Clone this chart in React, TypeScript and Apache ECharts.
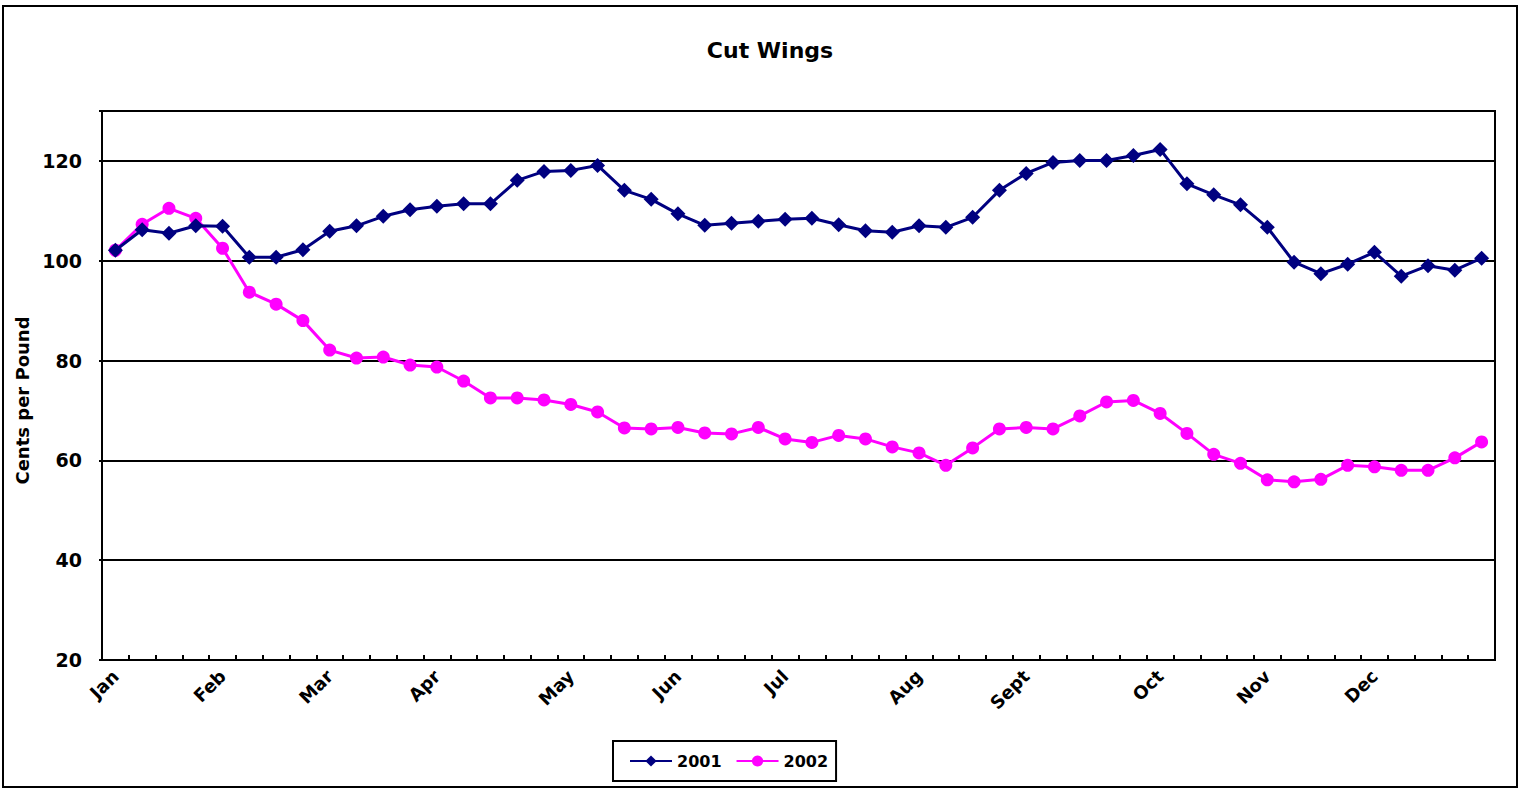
import React, { useEffect, useRef } from "react";
import * as echarts from "echarts";

const monthLabels = ["Jan", "Feb", "Mar", "Apr", "May", "Jun", "Jul", "Aug", "Sept", "Oct", "Nov", "Dec"];
const monthStartWeek = [0, 4, 8, 12, 17, 21, 25, 30, 34, 39, 43, 47];
const yTicks = [20, 40, 60, 80, 100, 120];

const series2001 = [
  102.1, 106.2, 105.5, 107.0, 106.9, 100.7, 100.7, 102.2, 105.9, 107.0,
  108.9, 110.2, 110.9, 111.4, 111.4, 116.1, 117.9, 118.1, 119.1, 114.1,
  112.3, 109.4, 107.1, 107.5, 107.9, 108.3, 108.5, 107.2, 106.0, 105.7,
  107.0, 106.7, 108.7, 114.1, 117.5, 119.7, 120.1, 120.1, 121.1, 122.3,
  115.4, 113.2, 111.2, 106.7, 99.7, 97.4, 99.3, 101.7, 96.9, 99.0,
  98.1, 100.5,
];

const series2002 = [
  102.1, 107.3, 110.5, 108.5, 102.5, 93.7, 91.3, 88.0, 82.1, 80.5,
  80.7, 79.1, 78.7, 75.9, 72.5, 72.5, 72.1, 71.2, 69.7, 66.5,
  66.3, 66.6, 65.5, 65.3, 66.6, 64.3, 63.6, 65.0, 64.3, 62.7,
  61.5, 59.0, 62.5, 66.3, 66.6, 66.3, 68.9, 71.7, 72.0, 69.4,
  65.4, 61.2, 59.4, 56.1, 55.7, 56.2, 59.0, 58.7, 58.0, 58.0,
  60.5, 63.7,
];

const weeks: string[] = series2001.map((_, i) => {
  const m = monthStartWeek.indexOf(i);
  return m >= 0 ? monthLabels[m] : "W" + (i + 1);
});

const FONT = "'DejaVu Sans', Arial, sans-serif";

export default function App() {
  const ref = useRef<HTMLDivElement>(null);
  useEffect(() => {
    if (!ref.current) return;
    const chart = echarts.init(ref.current, null, { renderer: "svg" });
    chart.setOption({
      animation: false,
      backgroundColor: "#ffffff",
      textStyle: { fontFamily: FONT },
      title: {
        text: "Cut Wings",
        left: 765,
        textAlign: "center",
        top: 34,
        textStyle: { fontFamily: FONT, fontWeight: "bold", fontSize: 22, color: "#000" },
      },
      graphic: [
        {
          type: "rect",
          shape: { x: 3, y: 6, width: 1514, height: 781 },
          style: { fill: "none", stroke: "#000", lineWidth: 2 },
          silent: true,
        },
      ],
      legend: {
        left: 613,
        top: 741,
        itemWidth: 42,
        itemHeight: 14,
        itemGap: 14,
        padding: [12, 8, 12, 16],
        borderColor: "#000",
        borderWidth: 2,
        textStyle: { fontFamily: FONT, fontWeight: "bold", fontSize: 16, color: "#000" },
        data: ["2001", "2002"],
      },
      grid: {
        left: 102,
        right: 30,
        top: 111,
        bottom: 131,
        show: true,
        borderColor: "#000",
        borderWidth: 2,
        backgroundColor: "#fff",
      },
      xAxis: {
        type: "category",
        data: weeks,
        boundaryGap: true,
        axisLine: { lineStyle: { color: "#000", width: 2 } },
        axisTick: { show: true, inside: true, length: 5, interval: 0, lineStyle: { color: "#000", width: 2 } },
        axisLabel: {
          interval: (idx: number) => monthStartWeek.indexOf(idx) >= 0,
          rotate: 45,
          margin: 13,
          fontFamily: FONT,
          fontWeight: "bold",
          fontSize: 18,
          color: "#000",
        },
        splitLine: { show: false },
      },
      yAxis: {
        type: "value",
        min: yTicks[0],
        max: 130,
        interval: 20,
        name: "Cents per Pound",
        nameLocation: "middle",
        nameGap: 60,
        nameTextStyle: { fontFamily: FONT, fontWeight: "bold", fontSize: 18, color: "#000", padding: [0, 30, 0, 0] },
        axisLine: { show: true, lineStyle: { color: "#000", width: 2 } },
        axisTick: { show: true, length: 3, lineStyle: { color: "#000", width: 2 } },
        axisLabel: {
          margin: 20,
          fontFamily: FONT,
          fontWeight: "bold",
          fontSize: 19,
          color: "#000",
          formatter: (v: number) => (yTicks.indexOf(v) >= 0 ? String(v) : ""),
        },
        splitLine: { show: true, lineStyle: { color: "#000", width: 2 } },
      },
      series: [
        {
          name: "2001",
          type: "line",
          data: series2001,
          symbol: "diamond",
          symbolSize: 15,
          itemStyle: { color: "#000080" },
          lineStyle: { color: "#000080", width: 3 },
          z: 3,
        },
        {
          name: "2002",
          type: "line",
          data: series2002,
          symbol: "circle",
          symbolSize: 13,
          itemStyle: { color: "#ff00ff" },
          lineStyle: { color: "#ff00ff", width: 3 },
          z: 2,
        },
      ],
    });
    return () => chart.dispose();
  }, []);
  return <div ref={ref} style={{ width: 1525, height: 791, position: "absolute", left: 0, top: 0 }} />;
}
